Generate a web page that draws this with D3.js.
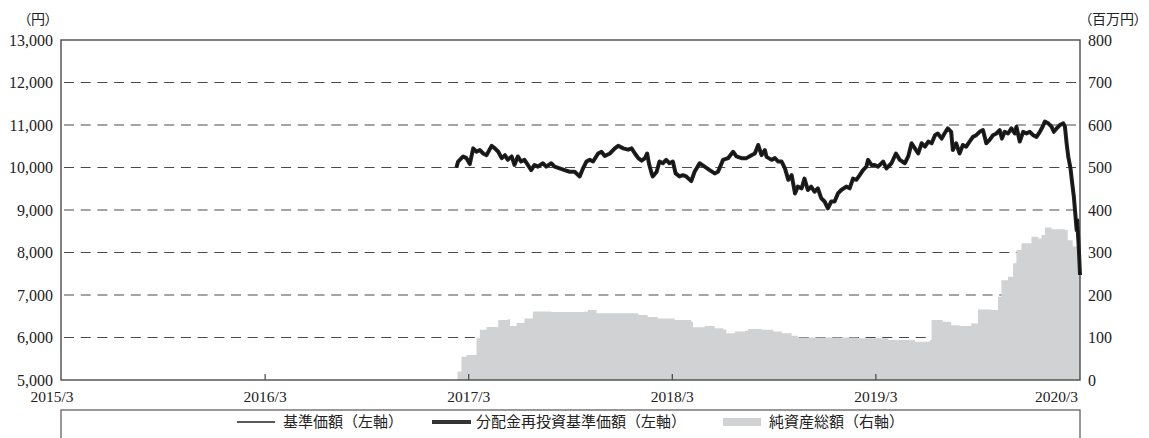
<!DOCTYPE html>
<html><head><meta charset="utf-8">
<script src="https://cdn.jsdelivr.net/npm/d3@7"></script>
<style>body{margin:0;background:#fff;} svg{display:block}</style>
</head><body><svg id="c" width="1149" height="438"></svg>
<script>
// ---- data ----
const baseDate = "2017-03-31";           // day offsets below are relative to this date
const navDays = [-22,-19,-10,-4,2,8,14,20,26,32,41,47,53,59,65,70,77,82,88,94,100,106,112,118,124,133,139,148,154,163,172,181,190,199,205,211,217,223,232,238,244,253,262,268,277,286,292,298,304,310,316,320,323,328,330,337,342,348,354,360,366,371,378,384,390,399,405,414,423,432,441,447,456,465,474,480,489,498,507,513,519,525,531,534,543,549,555,561,567,573,579,585,590,597,602,608,614,620,626,632,638,644,650,656,662,668,677,683,689,695,701,707,713,716,722,728,734,743,749,758,766,773,782,788,794,800,806,812,818,824,830,836,841,848,853,859,865,868,874,880,886,892,898,904,910,916,922,928,934,940,946,952,956,961,967,973,979,982,988,994,1000,1006,1012,1018,1024,1029,1033,1039,1045,1049,1054,1060,1066,1069,1072,1075,1079,1082,1085,1088,1090,1091,1094,1096];
const navValues = [10000,10140,10260,10220,10080,10450,10370,10410,10330,10290,10510,10450,10370,10220,10290,10180,10260,10060,10260,10140,10180,10060,9940,10060,10020,10100,10020,10100,10020,9980,9940,9900,9900,9790,9980,10140,10180,10140,10330,10370,10270,10330,10450,10510,10450,10420,10450,10330,10220,10160,10220,10330,10100,9860,9790,9900,10140,10100,10180,10100,10140,9860,9790,9820,9790,9680,9900,10100,10020,9940,9860,9900,10180,10220,10370,10260,10220,10220,10290,10330,10530,10290,10410,10250,10180,10220,10140,10140,9980,9710,9820,9390,9550,9510,9740,9470,9550,9430,9510,9280,9200,9040,9200,9200,9390,9470,9550,9510,9740,9710,9820,9940,10020,10180,10060,10060,10020,10140,9980,10100,10330,10180,10100,10260,10570,10450,10330,10570,10490,10610,10570,10760,10800,10680,10800,10920,10840,10410,10570,10330,10530,10490,10610,10720,10760,10840,10880,10570,10650,10760,10800,10880,10680,10840,10800,10920,10800,10960,10610,10840,10800,10840,10760,10720,10840,10960,11080,11040,10960,10840,10920,11000,11040,10960,10570,10250,9980,9630,9310,8840,8530,8760,8060,7470];
const assetDays = [-20,-13,-4,14,20,32,53,70,74,86,100,115,148,208,214,229,268,292,304,321,339,369,399,402,423,441,456,462,477,495,501,525,546,561,579,590,632,668,698,752,800,827,830,850,865,880,901,913,937,949,955,967,976,982,991,1009,1021,1027,1033,1045,1069,1074,1083,1092,1096];
const assetValues = [20,55,59,98,118,125,141,143,127,134,145,161,160,161,165,157,157,157,153,148,145,141,137,124,127,122,119,110,114,116,120,118,114,110,104,100,100,100,98,94,90,94,141,137,129,127,133,166,165,196,235,243,275,306,322,337,333,341,359,355,353,329,314,259,243];
const xTickDates = ["2015-03-31","2016-03-31","2017-03-31","2018-03-31","2019-03-31","2020-03-31"];
const xTickLabels = ["2015/3","2016/3","2017/3","2018/3","2019/3","2020/3"];
const leftTicks = [5000,6000,7000,8000,9000,10000,11000,12000,13000];
const rightTicks = [0,100,200,300,400,500,600,700,800];
const leftUnit = "（円）";
const rightUnit = "（百万円）";
const legendLabels = ["基準価額（左軸）","分配金再投資基準価額（左軸）","純資産総額（右軸）"];

// ---- drawing ----
const L = 61, R = 1080, T = 40, B = 380;
const svg = d3.select("#c");
const parse = d3.utcParse("%Y-%m-%d");
const base = parse(baseDate);
const toDate = d => d3.utcDay.offset(base, d);

const x = d3.scaleUtc().domain([parse(xTickDates[0]), parse(xTickDates[xTickDates.length-1])]).range([L, R]);
const yL = d3.scaleLinear().domain([5000, 13000]).range([B, T]);
const yR = d3.scaleLinear().domain([0, 800]).range([B, T]);

const numFont = "'Liberation Serif', 'DejaVu Serif', serif";
const cjkFont = "'Noto Sans CJK JP', 'Noto Sans CJK SC', sans-serif";

// gridlines
svg.append("g").selectAll("line").data(leftTicks.filter(v => v > 5000 && v < 13000)).join("line")
  .attr("x1", L + 3).attr("x2", R).attr("y1", d => yL(d)).attr("y2", d => yL(d))
  .attr("stroke", "#4a4a4a").attr("stroke-width", 1.2).attr("stroke-dasharray", "10,6.7");

// net assets area
const assets = assetDays.map((d, i) => ({date: toDate(d), v: assetValues[i]}));
svg.append("path").datum(assets)
  .attr("fill", "#d1d2d4")
  .attr("d", d3.area().curve(d3.curveStepAfter).x(d => x(d.date)).y0(yR(0)).y1(d => yR(d.v)));

// x tick marks (inside)
const tickDates = xTickDates.map(parse);
svg.append("g").selectAll("line").data(tickDates.slice(1, -1)).join("line")
  .attr("x1", d => x(d)).attr("x2", d => x(d)).attr("y1", B).attr("y2", B - 6)
  .attr("stroke", "#444").attr("stroke-width", 1.2);

// frame
svg.append("rect").attr("x", L).attr("y", T).attr("width", R - L).attr("height", B - T)
  .attr("fill", "none").attr("stroke", "#4a4a4a").attr("stroke-width", 1.4);

// lines
const nav = navDays.map((d, i) => ({date: toDate(d), v: navValues[i]}));
const lineGen = d3.line().x(d => x(d.date)).y(d => yL(d.v));
svg.append("path").datum(nav).attr("fill", "none").attr("stroke", "#222")
  .attr("stroke-width", 4).attr("stroke-linejoin", "round").attr("d", lineGen);
svg.append("path").datum(nav).attr("fill", "none").attr("stroke", "#111")
  .attr("stroke-width", 1.2).attr("stroke-linejoin", "round").attr("d", lineGen);

// left axis labels
svg.append("g").selectAll("text").data(leftTicks).join("text")
  .attr("x", 53).attr("y", d => yL(d)).attr("dy", "0.35em").attr("text-anchor", "end")
  .attr("font-family", numFont).attr("font-size", 16).attr("fill", "#222")
  .text(d => d3.format(",")(d));
// right axis labels
svg.append("g").selectAll("text").data(rightTicks).join("text")
  .attr("x", 1088).attr("y", d => yR(d)).attr("dy", "0.35em").attr("text-anchor", "start")
  .attr("font-family", numFont).attr("font-size", 16).attr("fill", "#222")
  .text(d => d);
// x labels
svg.append("g").selectAll("text").data(tickDates).join("text")
  .attr("x", (d, i) => i === 0 ? x(d) - 9 : (i === tickDates.length - 1 ? x(d) - 2 : x(d)))
  .attr("y", 397).attr("dy", "0.35em")
  .attr("text-anchor", (d, i) => i === tickDates.length - 1 ? "end" : "middle")
  .attr("font-family", numFont).attr("font-size", 15.5).attr("fill", "#222")
  .text((d, i) => xTickLabels[i]);

// units
svg.append("text").attr("x", 38).attr("y", 19).attr("dy", "0.35em").attr("text-anchor", "middle")
  .attr("font-family", cjkFont).attr("font-size", 14).attr("fill", "#222")
  .style("font-feature-settings", "'palt'").text(leftUnit);
svg.append("text").attr("x", 1085).attr("y", 19).attr("dy", "0.35em").attr("text-anchor", "start")
  .attr("font-family", cjkFont).attr("font-size", 14).attr("fill", "#222")
  .style("font-feature-settings", "'palt'").text(rightUnit);

// legend
svg.append("rect").attr("x", L).attr("y", 410).attr("width", R - L).attr("height", 40)
  .attr("fill", "none").attr("stroke", "#555").attr("stroke-width", 1.2);
const ly = 422;
const lg = svg.append("g");
lg.append("line").attr("x1", 237).attr("x2", 275).attr("y1", ly).attr("y2", ly).attr("stroke", "#222").attr("stroke-width", 1.5);
lg.append("line").attr("x1", 432).attr("x2", 471).attr("y1", ly).attr("y2", ly).attr("stroke", "#333").attr("stroke-width", 4);
lg.append("rect").attr("x", 723).attr("y", ly - 4).attr("width", 38).attr("height", 8).attr("fill", "#d1d2d4");
const lx = [283, 476, 769];
lg.selectAll("text").data(legendLabels).join("text")
  .attr("x", (d, i) => lx[i]).attr("y", ly).attr("dy", "0.35em")
  .attr("font-family", cjkFont).attr("font-size", 15).attr("fill", "#222").text(d => d);
</script>
</body></html>
